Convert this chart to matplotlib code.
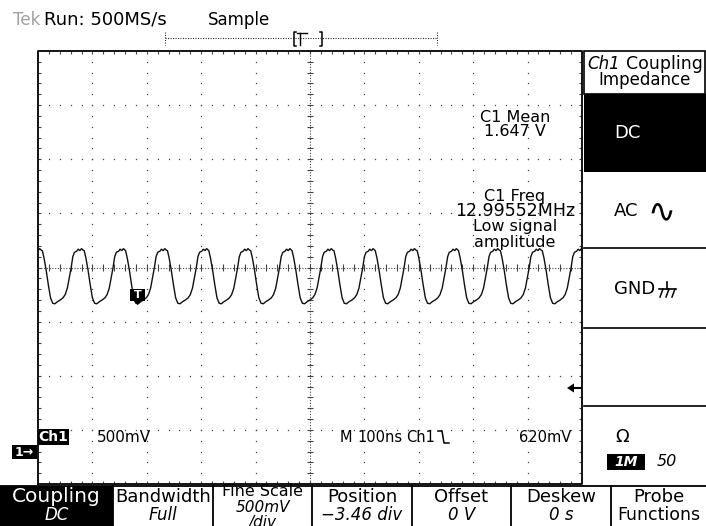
import numpy as np
import matplotlib
matplotlib.use('Agg')
import matplotlib.pyplot as plt
from matplotlib.patches import Rectangle

plt.rcParams['font.family'] = ['DejaVu Sans']
plt.rcParams['lines.scale_dashes'] = False

# ---------------- data ----------------
# start of each falling edge, in horizontal divisions (100 ns/div)
fall_starts = [-0.69, 0.08, 0.85, 1.61, 2.38, 3.14, 3.91, 4.67, 5.44,
               6.20, 6.97, 7.73, 8.50, 9.27, 10.03]
# one period of the trace: offset after falling-edge start (div) and level (div)
cycle_phase = [0.00, 0.03, 0.07, 0.11, 0.15, 0.19, 0.23, 0.28, 0.33, 0.38,
               0.42, 0.46, 0.49, 0.53, 0.56, 0.59, 0.63, 0.66, 0.69, 0.72, 0.75]
cycle_level = [0.31, 0.18, -0.05, -0.32, -0.56, -0.66, -0.67, -0.63, -0.60, -0.56,
               -0.50, -0.38, -0.22, 0.00, 0.20, 0.28, 0.30, 0.34, 0.31, 0.35, 0.32]

header_texts = ["Tek", "Run: 500MS/s", "Sample"]
bottom_menu_line1 = ["Coupling", "Bandwidth", "Fine Scale", "Position", "Offset", "Deskew", "Probe"]
bottom_menu_line2 = ["DC", "Full", "500mV", "\u22123.46 div", "0 V", "0 s", "Functions"]
side_menu = ["DC", "AC", "GND"]
ch1_scale = "500mV"
timebase = ["M", "100ns", "Ch1"]
trig_level = "620mV"
meas_mean = ("C1 Mean", "1.647 V")
meas_freq = ("C1 Freq", "12.99552MHz", "Low signal", "amplitude")
impedance = ("1M", "50")

# ---------------- figure ----------------
W, H = 706, 526
fig = plt.figure(figsize=(W / 100, H / 100), dpi=100)
fig.patch.set_facecolor('white')

X0, X1, Y0, Y1 = 38, 582, 51, 484   # graticule in pixels
ax = fig.add_axes([X0 / W, 1 - Y1 / H, (X1 - X0) / W, (Y1 - Y0) / H])
ax.set_xlim(0, 10)
ax.set_ylim(-4, 4)
ax.axis('off')
ax.set_zorder(1)

ov = fig.add_axes([0, 0, 1, 1])
ov.set_xlim(0, W)
ov.set_ylim(H, 0)
ov.axis('off')
ov.set_zorder(2)
ov.patch.set_alpha(0)

dotc = '#444444'
# graticule dots
minor = np.arange(1, 40) * 0.2 - 4
for xi in [1, 2, 3, 4, 6, 7, 8, 9]:
    ax.plot([xi] * len(minor), minor, ls='none', marker='s', ms=0.9, mew=0, color=dotc)
minor_x = np.arange(1, 50) * 0.2
for yi in [-3, -2, -1, 1, 2, 3]:
    ax.plot(minor_x, [yi] * len(minor_x), ls='none', marker='s', ms=0.9, mew=0, color=dotc)
# centre lines
ax.plot([5, 5], [-4, 4], color=dotc, lw=0.8, ls=(0, (0.8, 1.2)))
ax.plot([0, 10], [0, 0], color=dotc, lw=0.8, ls=(0, (0.8, 1.2)))
ax.hlines(minor, 5 - 0.05, 5 + 0.05, color=dotc, lw=0.8)
ax.vlines(minor_x, -0.06, 0.06, color=dotc, lw=0.8)
# border ticks
ax.vlines(minor_x, -4, -4 + 0.06, color=dotc, lw=0.8)
ax.vlines(minor_x, 4 - 0.06, 4, color=dotc, lw=0.8)
ax.hlines(minor, 0, 0.05, color=dotc, lw=0.8)
ax.hlines(minor, 10 - 0.05, 10, color=dotc, lw=0.8)

# trace
tt, vv = [], []
for s in fall_starts:
    for p, l in zip(cycle_phase, cycle_level):
        tt.append(s + p)
        vv.append(l)
ax.plot(tt, vv, color='#111111', lw=1.0, solid_joinstyle='miter')

# frame
ov.plot([X0, X0, X1, X1, X0], [Y1, Y0, Y0, Y1, Y1], color='black', lw=1.3)

def txt(x, y, s, size=11, color='black', ha='left', style='normal', weight='normal', **kw):
    ov.text(x, y, s, fontsize=size, color=color, ha=ha, va='center',
            style=style, fontweight=weight, **kw)

# header
txt(13, 20, header_texts[0], size=12, color='#a0a0a0')
txt(44, 20, header_texts[1], size=13)
txt(208, 20, header_texts[2], size=12)
# record bar
ov.plot([165, 437], [38, 38], color='#333333', lw=0.8, ls=(0, (0.8, 1.0)))
for xb in [165, 437]:
    ov.plot([xb, xb], [32, 45], color='#333333', lw=0.8, ls=(0, (0.8, 1.0)))
ov.plot([296, 294, 294, 296], [32, 32, 46, 46], color='black', lw=1.1)
ov.plot([320, 322, 322, 320], [32, 32, 46, 46], color='black', lw=1.1)
ov.plot([297, 307], [33, 33], color='black', lw=1.0)
ov.plot([300, 300], [33, 45], color='black', lw=1.0)

# measurements
mx = 515
txt(mx, 117, meas_mean[0], ha='center', size=11.5)
txt(mx, 132, meas_mean[1], ha='center', size=11.5)
txt(mx, 196, meas_freq[0], ha='center', size=11.5)
txt(mx, 211, meas_freq[1], ha='center', size=12.5)
txt(mx, 227, meas_freq[2], ha='center', size=11.5)
txt(mx, 242, meas_freq[3], ha='center', size=11.5)

# trigger marker on trace
ov.add_patch(Rectangle((130, 289), 15, 12, color='black', lw=0))
ov.fill([133, 142, 137.5], [300, 300, 305], color='black', lw=0)
txt(137.5, 295, "T", ha='center', size=8, color='white', weight='bold')

# ground marker
ov.add_patch(Rectangle((12, 445), 25, 14, color='black', lw=0))
txt(24, 452, "1\u2192", ha='center', size=9, color='white', weight='bold')
# trigger level arrow
ov.fill([567, 574, 574], [388, 383.5, 392.5], color='black', lw=0)
ov.plot([573, 580], [388, 388], color='black', lw=1.5)

# bottom status line
ov.add_patch(Rectangle((38, 429), 31, 16, color='black', lw=0))
txt(53.5, 437, "Ch1", ha='center', size=10, color='white', weight='bold')
txt(97, 437, ch1_scale, size=11)
txt(340, 437, timebase[0], size=10.5)
txt(357, 437, timebase[1], size=10.5)
txt(406, 437, timebase[2], size=10.5)
ov.plot([438, 442, 444, 449], [431, 431, 443, 443], color='black', lw=1.1)
txt(519, 437, trig_level, size=10.5)

# right panel
px0 = 584
ov.add_patch(Rectangle((px0, 51), 705 - px0, 43, fill=False, ec='black', lw=1.2))
ov.text(587, 64, "Ch1", fontsize=12, style='italic', ha='left', va='center')
ov.text(703, 64, "Coupling", fontsize=12.5, ha='right', va='center')
txt(645, 80, "Impedance", ha='center', size=12)
ov.add_patch(Rectangle((px0, 94), W - px0, 78, color='black', lw=0))
txt(614, 133, side_menu[0], size=13, color='white')
txt(614, 211, side_menu[1], size=13)
txt(661, 212, "\u223F", size=24, ha='center')
txt(614, 289, side_menu[2], size=13)
# ground glyph
ov.plot([659, 676], [289, 289], color='black', lw=1.2)
ov.plot([667, 667], [282, 289], color='black', lw=1.2)
for gx in [660, 666, 672]:
    ov.plot([gx + 3, gx], [289, 297], color='black', lw=1.1)
for ys in [248, 328, 406]:
    ov.plot([px0, W], [ys, ys], color='black', lw=1.2)
txt(615, 437, "\u03A9", size=13)
ov.add_patch(Rectangle((607, 454), 38, 16, color='black', lw=0))
txt(626, 462, impedance[0], ha='center', size=10, color='white', style='italic', weight='bold')
txt(657, 462, impedance[1], size=11.5, style='italic')

# bottom menu
edges = [0, 113, 213, 312, 412, 511, 611, W]
ov.plot([0, W], [486, 486], color='black', lw=1.3)
for i in range(7):
    xa, xb = edges[i], edges[i + 1]
    xc = (xa + xb) / 2
    if i == 0:
        ov.add_patch(Rectangle((xa, 486), xb - xa, H - 486, color='black', lw=0))
        col = 'white'
    else:
        col = 'black'
        ov.plot([xa, xa], [486, H], color='black', lw=1.3)
    s1 = 14.5 if i == 0 else 13
    if i == 2:
        txt(xc, 492, bottom_menu_line1[i], ha='center', size=11.5, color=col)
        txt(xc, 507, bottom_menu_line2[i], ha='center', size=11, color=col, style='italic')
        txt(xc, 522, "/div", ha='center', size=11, color=col, style='italic')
    else:
        txt(xc, 497, bottom_menu_line1[i], ha='center', size=s1, color=col)
        st = 'normal' if i == 6 else 'italic'
        txt(xc, 515, bottom_menu_line2[i], ha='center', size=12.5 if i == 6 else 12,
            color=col, style=st)

fig.savefig('out.png', dpi=100, facecolor='white')
